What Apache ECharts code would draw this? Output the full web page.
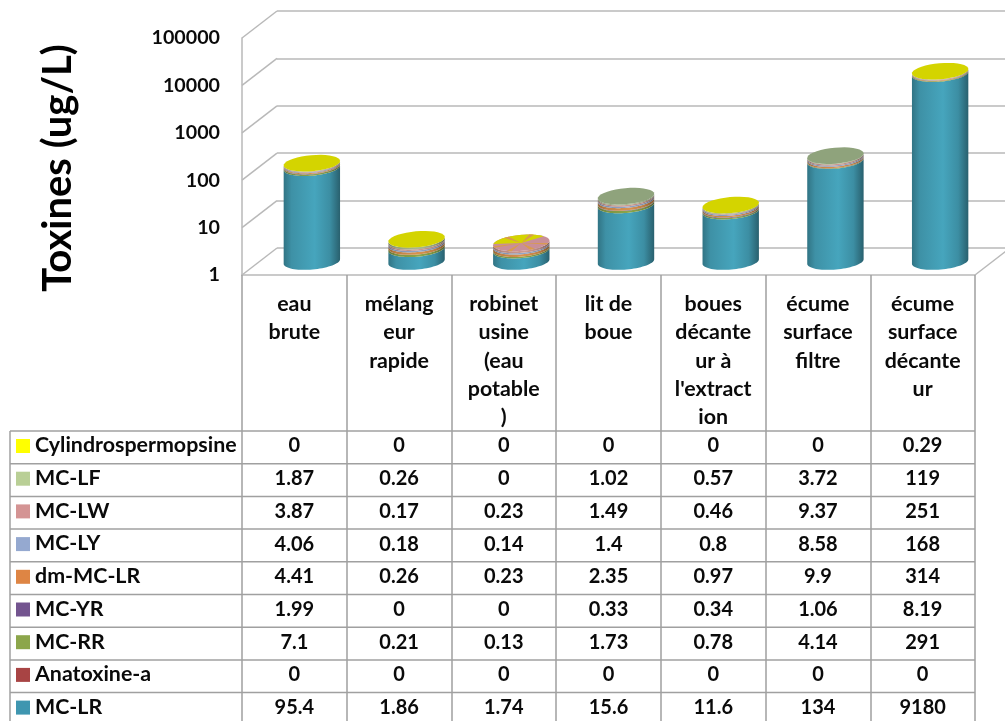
<!DOCTYPE html>
<html>
<head>
<meta charset="utf-8">
<style>
  html, body { margin: 0; padding: 0; background: #fff; }
  #main { width: 1005px; height: 721px; }
</style>
<script src="https://cdn.jsdelivr.net/npm/echarts@6/dist/echarts.min.js"></script>
</head>
<body>
<div id="main"></div>
<script>
const categories = [
  'eau\nbrute',
  'mélang\neur\nrapide',
  'robinet\nusine\n(eau\npotable\n)',
  'lit de\nboue',
  'boues\ndécante\nur à\nl\'extract\nion',
  'écume\nsurface\nfiltre',
  'écume\nsurface\ndécante\nur',
];
const yTicks = [1, 10, 100, 1000, 10000, 100000];

// table order, top to bottom
const toxins = ['Cylindrospermopsine', 'MC-LF', 'MC-LW', 'MC-LY', 'dm-MC-LR', 'MC-YR', 'MC-RR', 'Anatoxine-a', 'MC-LR'];
const cylindrospermopsine = [0, 0, 0, 0, 0, 0, 0.29];
const mcLF = [1.87, 0.26, 0, 1.02, 0.57, 3.72, 119];
const mcLW = [3.87, 0.17, 0.23, 1.49, 0.46, 9.37, 251];
const mcLY = [4.06, 0.18, 0.14, 1.4, 0.8, 8.58, 168];
const dmMcLR = [4.41, 0.26, 0.23, 2.35, 0.97, 9.9, 314];
const mcYR = [1.99, 0, 0, 0.33, 0.34, 1.06, 8.19];
const mcRR = [7.1, 0.21, 0.13, 1.73, 0.78, 4.14, 291];
const anatoxineA = [0, 0, 0, 0, 0, 0, 0];
const mcLR = [95.4, 1.86, 1.74, 15.6, 11.6, 134, 9180];
const tableRows = [cylindrospermopsine, mcLF, mcLW, mcLY, dmMcLR, mcYR, mcRR, anatoxineA, mcLR];

const legendColors = ['#ffff00', '#b9cf96', '#d49494', '#95a9d0', '#de8544', '#73548f', '#8ca64b', '#a84444', '#3f96b0'];
const sideColors = ['#d6d600', '#a9b98f', '#cf9a92', '#94a6c8', '#d9924f', '#73548f', '#8ca64b', '#a84444', '#46a5bd'];
const capKinds = ['yellow', 'yellow', 'wedges', 'sage', 'yellow', 'sage', 'yellow'];

const FONT = 'Lato, "Open Sans", sans-serif';
const GRID_LINE = '#b9b9b9';
const TABLE_LINE = '#a0a0a0';
const TEXT_COLOR = '#0a0a0a';

// 3D box depth of the Excel plot, and cylinder shape
const DEPTH_X = 35, DEPTH_Y = 27;
const RX = 28.3, RY = 8, TILT = -5 * Math.PI / 180;

function ellipsePts(cx, cy, from, to) {
  const pts = [];
  const n = 36;
  for (let i = 0; i <= n; i++) {
    const t = from + (to - from) * i / n;
    const ex = RX * Math.cos(t), ey = RY * Math.sin(t);
    pts.push([
      cx + ex * Math.cos(TILT) - ey * Math.sin(TILT),
      cy + ex * Math.sin(TILT) + ey * Math.cos(TILT),
    ]);
  }
  return pts;
}

function shade(color, amount) {
  return echarts.color.lerp(amount, [color, '#000000']);
}

function bodyGradient(color) {
  return new echarts.graphic.LinearGradient(0, 0, 1, 0, [
    { offset: 0, color: shade(color, 0.3) },
    { offset: 0.14, color: shade(color, 0.12) },
    { offset: 0.55, color: color },
    { offset: 0.82, color: shade(color, 0.14) },
    { offset: 1, color: shade(color, 0.42) },
  ]);
}

function capChildren(kind, cx, cy) {
  const shape = { points: ellipsePts(cx, cy, 0, Math.PI * 2) };
  if (kind === 'yellow') return [{ type: 'polygon', shape, style: { fill: '#d4d400' } }];
  if (kind === 'sage') return [{ type: 'polygon', shape, style: { fill: '#8fa37c' } }];
  // robinet usine: the top faces fight each other and show as wedges
  const kids = [{ type: 'polygon', shape, style: { fill: '#c98f98' } }];
  kids.push({ type: 'polygon', shape: { points: [[cx, cy]].concat(ellipsePts(cx, cy, Math.PI * 1.05, Math.PI * 1.8)) }, style: { fill: '#d4d400' } });
  [0.1, 0.35, 0.62, 0.9, 1.3, 1.6].forEach((a) => {
    const p = ellipsePts(cx, cy, Math.PI * a, Math.PI * (a + 0.06));
    kids.push({ type: 'polygon', shape: { points: [[cx, cy]].concat(p) }, style: { fill: '#d99a50' } });
  });
  return kids;
}

// stack bottom to top, the last table row sits on the floor
const stackOrder = tableRows.map((_, i) => tableRows.length - 1 - i);
const running = categories.map(() => 1);
const cylinderSeries = stackOrder.map((rowIdx, pos) => {
  const data = categories.map((_, c) => {
    const base = pos === 0 ? 1 : running[c];
    const top = (pos === 0 ? 0 : running[c]) + tableRows[rowIdx][c];
    running[c] = top;
    return [c, base, top];
  });
  return {
    type: 'custom',
    name: toxins[rowIdx],
    xAxisIndex: 0,
    yAxisIndex: 0,
    z: 5 + pos,
    encode: { x: 0, y: [1, 2] },
    data,
    renderItem: (params, api) => {
      const c = api.value(0);
      const low = api.coord([c, api.value(1)]);
      const high = api.coord([c, api.value(2)]);
      const cx = low[0] + DEPTH_X / 2;
      const y0 = low[1] - DEPTH_Y / 2;
      const y1 = high[1] - DEPTH_Y / 2;
      const children = [];
      if (y0 - y1 > 0.01) {
        const pts = ellipsePts(cx, y0, 0, Math.PI).concat(ellipsePts(cx, y1, Math.PI, 0));
        children.push({ type: 'polygon', shape: { points: pts }, style: { fill: bodyGradient(sideColors[rowIdx]) } });
      }
      if (pos === stackOrder.length - 1) {
        children.push(...capChildren(capKinds[c], cx, y1));
      }
      return { type: 'group', children };
    },
  };
});

// slanted lines joining the front axis to the back wall
const wallSeries = {
  type: 'custom',
  xAxisIndex: 0,
  yAxisIndex: 0,
  z: 2,
  silent: true,
  encode: { y: 0 },
  data: yTicks.map((v) => [v]),
  renderItem: (params, api) => {
    const cs = params.coordSys;
    const y = api.coord([0, api.value(0)])[1];
    const lineStyle = { stroke: GRID_LINE, lineWidth: 1.5 };
    const kids = [{ type: 'line', shape: { x1: cs.x, y1: y, x2: cs.x + DEPTH_X, y2: y - DEPTH_Y }, style: lineStyle }];
    if (api.value(0) === 1) {
      kids.push({ type: 'line', shape: { x1: cs.x + cs.width, y1: y, x2: cs.x + cs.width + DEPTH_X, y2: y - DEPTH_Y }, style: lineStyle });
    }
    return { type: 'group', children: kids };
  },
};

// data table under the plot
const TBL_LEFT = 10, TBL_TOP = 431, ROW_H = 32.7, PLOT_LEFT = 242, PLOT_W = 733;
const tableGraphics = [];
tableRows.forEach((row, r) => {
  const y = TBL_TOP + r * ROW_H;
  tableGraphics.push({ type: 'line', shape: { x1: TBL_LEFT, y1: y, x2: PLOT_LEFT + PLOT_W, y2: y }, style: { stroke: TABLE_LINE, lineWidth: 1.5 } });
  tableGraphics.push({ type: 'rect', shape: { x: 16, y: y + 8, width: 14, height: 14 }, style: { fill: legendColors[r] } });
  tableGraphics.push({
    type: 'text', x: 35, y: y + 14.5,
    style: { text: toxins[r], font: 'bold 21.4px ' + FONT, fill: TEXT_COLOR, textVerticalAlign: 'middle' },
  });
  row.forEach((v, c) => {
    tableGraphics.push({
      type: 'text', x: PLOT_LEFT + (c + 0.5) * PLOT_W / categories.length, y: y + 15,
      style: { text: String(v), font: 'bold 20px ' + FONT, fill: TEXT_COLOR, textAlign: 'center', textVerticalAlign: 'middle' },
    });
  });
});
tableGraphics.push({ type: 'line', shape: { x1: TBL_LEFT, y1: TBL_TOP, x2: TBL_LEFT, y2: 721 }, style: { stroke: TABLE_LINE, lineWidth: 1.5 } });
tableGraphics.push({
  type: 'text', x: 58, y: 168, rotation: Math.PI / 2,
  style: { text: 'Toxines (ug/L)', font: 'bold 40px ' + FONT, fill: '#000', textAlign: 'center', textVerticalAlign: 'middle' },
});

const chart = echarts.init(document.getElementById('main'));
chart.setOption({
  animation: false,
  backgroundColor: '#fff',
  grid: [
    // front plane of the box
    { left: PLOT_LEFT, width: PLOT_W, top: 38, height: 237 },
    // back wall, same scale pushed back by the depth
    { left: PLOT_LEFT + DEPTH_X, width: PLOT_W, top: 38 - DEPTH_Y, height: 237 },
  ],
  xAxis: [
    {
      type: 'category',
      gridIndex: 0,
      data: categories,
      axisLine: { show: true, lineStyle: { color: GRID_LINE, width: 1.5 } },
      axisTick: { show: true, length: 446, lineStyle: { color: TABLE_LINE, width: 1.5 } },
      axisLabel: {
        interval: 0,
        margin: 15,
        verticalAlign: 'top',
        lineHeight: 28.3,
        color: TEXT_COLOR,
        fontFamily: FONT,
        fontWeight: 'bold',
        fontSize: 21.4,
      },
    },
    { type: 'category', gridIndex: 1, data: categories, show: false },
  ],
  yAxis: [
    {
      type: 'log',
      gridIndex: 0,
      min: 1,
      max: 100000,
      logBase: 10,
      axisLine: { show: true, lineStyle: { color: GRID_LINE, width: 1.5 } },
      axisTick: { show: false },
      splitLine: { show: false },
      minorTick: { show: false },
      axisLabel: {
        margin: 22,
        color: TEXT_COLOR,
        fontFamily: FONT,
        fontWeight: 'bold',
        fontSize: 19.7,
        formatter: (v) => String(Math.round(v)),
      },
    },
    {
      type: 'log',
      gridIndex: 1,
      min: 1,
      max: 100000,
      logBase: 10,
      axisLine: { show: false },
      axisTick: { show: false },
      axisLabel: { show: false },
      splitLine: { show: true, lineStyle: { color: GRID_LINE, width: 1.5 } },
    },
  ],
  series: [wallSeries].concat(cylinderSeries),
  graphic: tableGraphics,
});
</script>
</body>
</html>
